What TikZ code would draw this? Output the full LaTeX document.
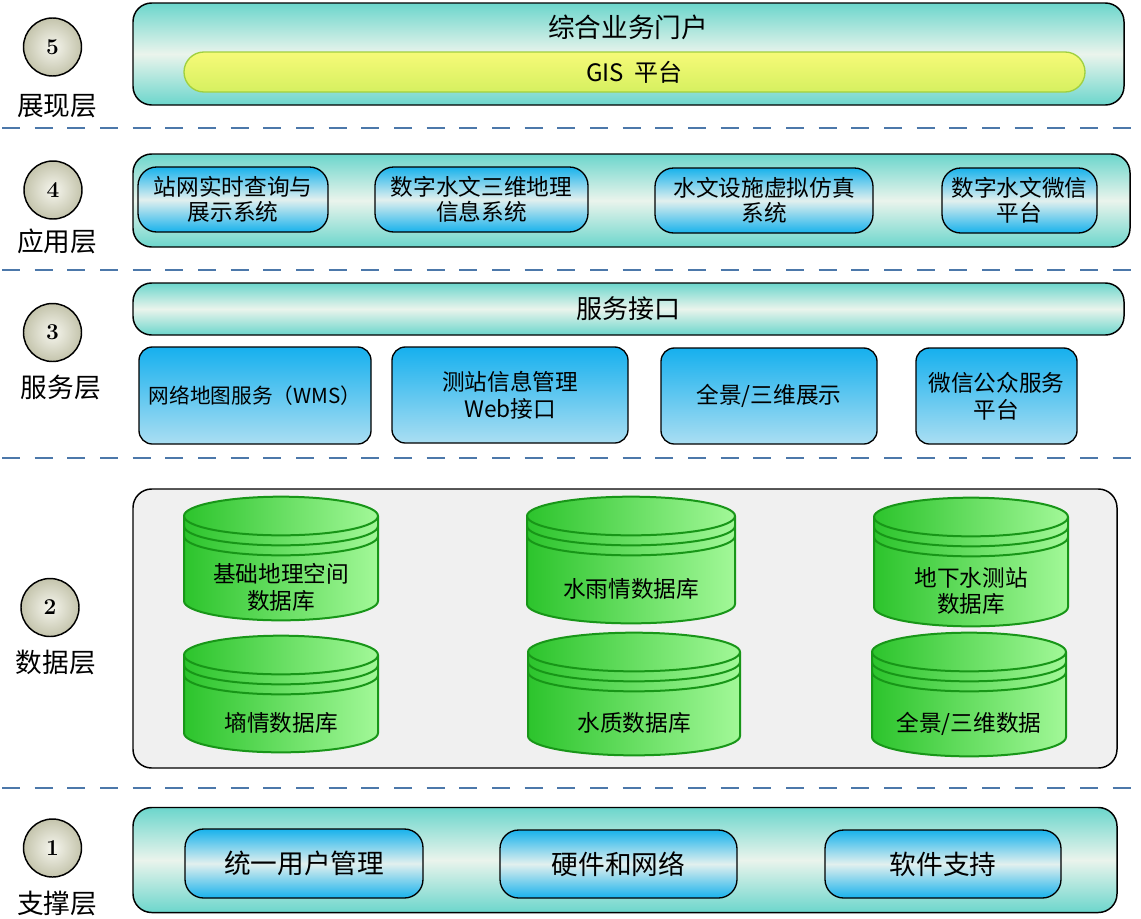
\documentclass[tikz,border=0pt]{standalone}
\usepackage{fontspec}
\newfontfamily\cjk{Noto Sans CJK SC}
\usetikzlibrary{shapes.geometric}

\definecolor{tealedge}{RGB}{108,214,204}
\definecolor{tealmid}{RGB}{234,244,236}
\definecolor{appblue}{RGB}{24,178,236}
\definecolor{appmid}{RGB}{226,240,238}
\definecolor{svctop}{RGB}{22,176,238}
\definecolor{svcbot}{RGB}{170,222,242}
\definecolor{gistop}{RGB}{246,250,120}
\definecolor{gisbot}{RGB}{214,240,96}
\definecolor{gisline}{RGB}{160,208,64}
\definecolor{dbdark}{RGB}{44,196,44}
\definecolor{dblight}{RGB}{162,248,152}
\definecolor{dbline}{RGB}{24,150,24}
\definecolor{sepblue}{RGB}{76,120,170}
\definecolor{circin}{RGB}{246,246,238}
\definecolor{circout}{RGB}{196,196,172}
\definecolor{datagray}{RGB}{240,240,240}

\tikzset{
  boxsize/.style 2 args={minimum width=#1*0.75pt, minimum height=#2*0.75pt, inner sep=0pt},
  layerbox/.style={draw, line width=1.1pt, rounded corners=14pt,
    top color=tealedge, bottom color=tealedge, middle color=tealmid,
    font=\cjk\fontsize{19.5}{22}\selectfont},
  appbox/.style={draw, line width=1pt, rounded corners=14pt,
    top color=appblue, bottom color=appblue, middle color=appmid,
    align=center, font=\cjk\fontsize{17}{19}\selectfont},
  supbox/.style={appbox, font=\cjk\fontsize{20}{22}\selectfont},
  svcbox/.style={draw, line width=1pt, rounded corners=10pt,
    top color=svctop, bottom color=svcbot,
    align=center, font=\cjk\fontsize{17}{20}\selectfont},
  gisbar/.style={draw=gisline, line width=1pt, rounded corners=15pt,
    top color=gistop, bottom color=gisbot,
    font=\cjk\fontsize{18}{20}\selectfont},
  datalayer/.style={draw, line width=1.1pt, rounded corners=14pt, fill=datagray},
  layercircle/.style={circle, draw, line width=1.1pt, minimum size=43.5pt, inner sep=0pt,
    inner color=circin, outer color=circout, font=\fontsize{17}{17}\selectfont\bfseries},
  layerlabel/.style={font=\cjk\fontsize{20}{22}\selectfont},
  titletext/.style={font=\cjk\fontsize{20}{22}\selectfont},
  dbbody/.style={draw=dbline, line width=1.5pt, left color=dbdark, right color=dblight},
  dbring/.style={draw=dbline, line width=1.5pt},
  dbtext/.style={align=center, font=\cjk\fontsize{17}{20}\selectfont},
  sepline/.style={draw=sepblue, line width=2.2pt, dash pattern=on 13.5pt off 11pt}
}

% database cylinder: name, centre x, half width, top y, bottom y, text
\newcommand\dbstack[6]{%
  \shade[dbbody] (#2-#3,#4) -- (#2-#3,#5)
    arc[start angle=180, end angle=360, x radius=#3*0.75pt, y radius=14.5pt]
    -- (#2+#3,#4)
    arc[start angle=0, end angle=180, x radius=#3*0.75pt, y radius=14.5pt] -- cycle;
  \foreach \dy in {0,10,20}
    \draw[dbring] (#2-#3,#4+\dy)
      arc[start angle=180, end angle=360, x radius=#3*0.75pt, y radius=14.5pt];
  \node[dbtext] (#1) at (#2,{(#4+#5)/2+29}) {#6};
}

\begin{document}
\begin{tikzpicture}[x=0.75pt, y=-0.75pt]
  \useasboundingbox (0,0) rectangle (1141,918);

  % layer markers
  \foreach \n/\cx/\cy/\lx/\ly/\txt in {5/52.5/47/57/106/展现层, 4/53/190/57/241/应用层,
      3/52.5/332.5/61/387/服务层, 2/50/607.5/56/662/数据层, 1/52.5/848/57/903/支撑层}{
    \node[layercircle] (circ\n) at (\cx,\cy) {\n};
    \node[layerlabel] (label\n) at (\lx,\ly) {\txt};
  }

  % separators
  \foreach \y in {128,270,458,788}
    \draw[sepline] (2,\y) -- (1141,\y);

  % presentation layer
  \node[layerbox, boxsize={991}{102}] (portal) at (628.5,54) {};
  \node[titletext] (portaltitle) at (628,27) {综合业务门户};
  \node[gisbar, boxsize={901}{40}] (gis) at (634.5,72) {GIS\ \ 平台};

  % application layer
  \node[layerbox, boxsize={997}{93}] (applayer) at (631.5,200.5) {};
  \node[appbox, boxsize={190}{65}] (app1) at (233,199.5) {站网实时查询与\\展示系统};
  \node[appbox, boxsize={213}{65}] (app2) at (481.5,199.5) {数字水文三维地理\\信息系统};
  \node[appbox, boxsize={218}{65}] (app3) at (764,200.5) {水文设施虚拟仿真\\系统};
  \node[appbox, boxsize={155}{65}] (app4) at (1019.5,200.5) {数字水文微信\\平台};

  % service layer
  \node[layerbox, boxsize={991}{52}] (svcapi) at (628.5,309) {服务接口};
  \node[svcbox, boxsize={232}{97}, font=\cjk\fontsize{15.5}{20}\selectfont] (svc1) at (255,395.5) {网络地图服务（WMS）};
  \node[svcbox, boxsize={236}{96}] (svc2) at (510,395) {测站信息管理\\Web接口};
  \node[svcbox, boxsize={216}{96}] (svc3) at (769,396) {全景/三维展示};
  \node[svcbox, boxsize={161}{96}] (svc4) at (996.5,396) {微信公众服务\\平台};

  % data layer
  \node[datalayer, boxsize={984}{279}] (datalayer) at (625,628.5) {};
  \dbstack{geodb}{281}{97}{516}{601}{基础地理空间\\数据库}
  \dbstack{raindb}{631}{104}{516}{604}{水雨情数据库}
  \dbstack{gwdb}{971}{97}{517}{607}{地下水测站\\数据库}
  \dbstack{soildb}{281}{97}{655}{733}{墒情数据库}
  \dbstack{qualdb}{634}{106}{652}{736}{水质数据库}
  \dbstack{panodb}{969}{97}{652}{737}{全景/三维数据}

  % support layer
  \node[layerbox, boxsize={984}{105}] (support) at (625,860) {};
  \node[supbox, boxsize={238}{69}] (sup1) at (304,863.5) {统一用户管理};
  \node[supbox, boxsize={237}{68}] (sup2) at (618.5,864) {硬件和网络};
  \node[supbox, boxsize={236}{68}] (sup3) at (943,864) {软件支持};
\end{tikzpicture}
\end{document}
